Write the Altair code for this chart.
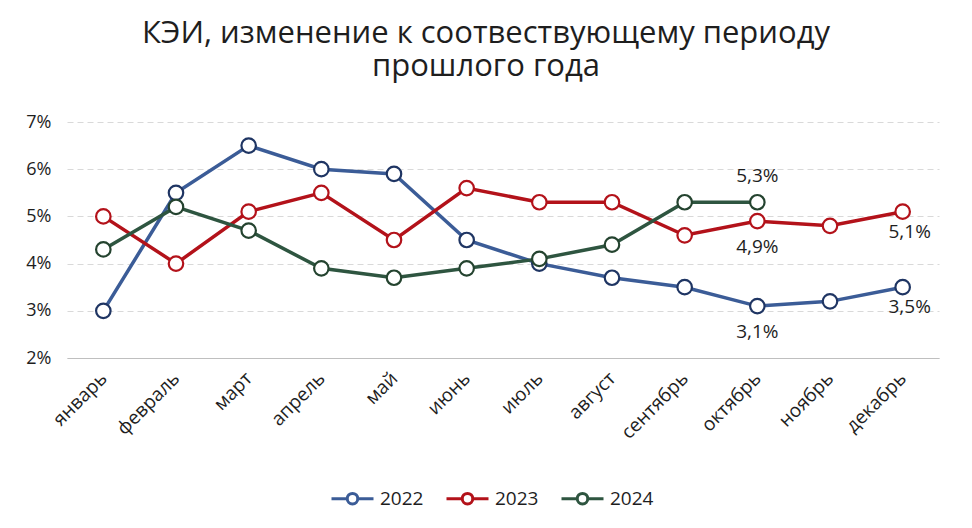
import altair as alt
import pandas as pd

months = ["январь", "февраль", "март", "апрель", "май", "июнь", "июль",
          "август", "сентябрь", "октябрь", "ноябрь", "декабрь"]
v2022 = [3.0, 5.5, 6.5, 6.0, 5.9, 4.5, 4.0, 3.7, 3.5, 3.1, 3.2, 3.5]
v2023 = [5.0, 4.0, 5.1, 5.5, 4.5, 5.6, 5.3, 5.3, 4.6, 4.9, 4.8, 5.1]
v2024 = [4.3, 5.2, 4.7, 3.9, 3.7, 3.9, 4.1, 4.4, 5.3, 5.3]
years = ["2022", "2023", "2024"]
line_colors = ["#3B5C97", "#B3121A", "#2E5540"]
marker_colors = ["#1F3563", "#B3121A", "#24432F"]

# labelled points: (year, month)
labels_above = [("2024", "октябрь")]
labels_below = [("2023", "октябрь"), ("2022", "октябрь")]
labels_below_right = [("2023", "декабрь"), ("2022", "декабрь")]

rows = []
for y, vals in zip(years, [v2022, v2023, v2024]):
    for m, v in zip(months, vals):
        rows.append({"month": m, "year": y, "value": v,
                     "label": f"{v:.1f}".replace(".", ",") + "%"})
df = pd.DataFrame(rows)

def subset(pairs):
    return df[df.apply(lambda r: (r["year"], r["month"]) in pairs, axis=1)]

FONT = "Open Sans"
TXT = "#1E1E1E"

x = alt.X("month:N", sort=months, scale=alt.Scale(type="point", padding=0.5),
          axis=alt.Axis(title=None, labelAngle=-45, labelAlign="right",
                        labelBaseline="middle", labelPadding=17, labelFontSize=19,
                        ticks=False, domain=True, domainColor="#BFBFBF",
                        domainWidth=1.2, grid=False, labelColor=TXT,
                        labelFont=FONT))
y = alt.Y("value:Q", scale=alt.Scale(domain=[2, 7], nice=False),
          axis=alt.Axis(title=None, values=[2, 3, 4, 5, 6, 7],
                        labelExpr="datum.value + '%'", labelFontSize=18,
                        labelPadding=16, ticks=False, domain=False, grid=True,
                        gridDash=[6, 4], gridColor="#D9D9D9", gridWidth=1,
                        labelColor=TXT, labelFont=FONT))

legend_symbol = ("M-1,0 L-0.25,0 M0.25,0 L1,0 "
                 "M0.25,0 A0.25,0.25 0 1,1 -0.25,0 A0.25,0.25 0 1,1 0.25,0 Z")

lines = alt.Chart(df).mark_line(strokeWidth=3.5).encode(
    x=x, y=y,
    color=alt.Color("year:N", scale=alt.Scale(domain=years, range=line_colors),
                    legend=alt.Legend(title=None, orient="none", direction="horizontal",
                                      legendX=263, legendY=354,
                                      symbolType=legend_symbol, symbolSize=1764,
                                      symbolStrokeWidth=3, symbolFillColor="white",
                                      labelFontSize=19, labelFont=FONT,
                                      labelColor=TXT, labelOffset=5,
                                      columnPadding=16)),
)

points = alt.Chart(df).mark_point(shape="circle", filled=True, fill="white",
                                   size=210, strokeWidth=2.2, opacity=1).encode(
    x=x, y=y,
    stroke=alt.Stroke("year:N", scale=alt.Scale(domain=years, range=marker_colors),
                      legend=None),
)

text_style = dict(fontSize=19, font=FONT, color=TXT)
t_above = alt.Chart(subset(labels_above)).mark_text(dy=-26, **text_style).encode(
    x=x, y=y, text="label:N")
t_below = alt.Chart(subset(labels_below)).mark_text(dy=26, **text_style).encode(
    x=x, y=y, text="label:N")
t_below_r = alt.Chart(subset(labels_below_right)).mark_text(dy=20, dx=7, **text_style).encode(
    x=x, y=y, text="label:N")

chart = alt.layer(lines, points, t_above, t_below, t_below_r).properties(
    width=872, height=236,
    background="white",
    autosize=alt.AutoSizeParams(type="none"),
    padding={"left": 67, "top": 122, "right": 33, "bottom": 170},
    title=alt.Title(["КЭИ, изменение к соотвествующему периоду", "прошлого года"],
                    fontSize=31, font=FONT, fontWeight="normal", color=TXT,
                    anchor="middle", dx=-17, offset=30, lineHeight=33),
).configure_view(strokeWidth=0)

chart.save("out.html", embed_options={"renderer": "svg", "actions": False})
